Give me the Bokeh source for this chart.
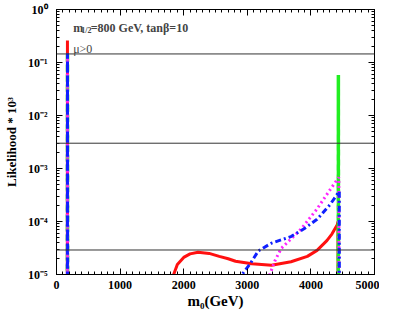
from bokeh.plotting import figure
from bokeh.models import (FixedTicker, LogAxis, LinearAxis, Span, Label,
                          CustomJSTickFormatter, Range1d)
from bokeh.embed import file_html
from bokeh.resources import INLINE

nan = float("nan")
FLOOR = 1e-7  # below the visible axis range (curves drop off the plot)

# ---- data ----
red_m0 = [170, 172, 174, nan,
          1800, 1842, 1900, 2000, 2100, 2226, 2400, 2559, 2700, 2815, 3072, 3380,
          3687, 3944, 4097, 4251, 4330, 4415, 4425, 4432]
red_L = [FLOOR, 0.26, FLOOR, nan,
         FLOOR, 1.0e-5, 1.55e-5, 2.1e-5, 2.45e-5, 2.63e-5, 2.5e-5, 2.2e-5, 1.98e-5, 1.78e-5, 1.59e-5, 1.5e-5,
         1.74e-5, 2.2e-5, 2.85e-5, 4.36e-5, 5.8e-5, 8.7e-5, 1.0e-4, FLOOR]

blue_m0 = [170, 173, 176, nan,
           2900, 2918, 3046, 3175, 3380, 3687, 3892, 4097, 4303, 4431, 4446, 4448]
blue_L = [FLOOR, 0.15, FLOOR, nan,
          FLOOR, 1.0e-5, 1.6e-5, 2.8e-5, 3.9e-5, 5.2e-5, 7.3e-5, 1.1e-4, 2.1e-4, 3.5e-4, 3.7e-4, FLOOR]

mag_m0 = [170, 173, 176, nan,
          3330, 3354, 3431, 3533, 3687, 3841, 4097, 4303, 4431, 4440, 4442]
mag_L = [FLOOR, 0.15, FLOOR, nan,
         FLOOR, 1.0e-5, 1.78e-5, 3.1e-5, 4.7e-5, 7.1e-5, 1.73e-4, 4.0e-4, 6.6e-4, 6.8e-4, FLOOR]

green_m0 = [171, 173, 175, nan, 4429, 4432, 4435]
green_L = [FLOOR, 0.15, FLOOR, nan, FLOOR, 0.058, FLOOR]

hlines = [0.145, 0.003, 2.9e-5]

x_major = [0, 1000, 2000, 3000, 4000, 5000]
x_minor = list(range(0, 5001, 100))
y_major = [1e-5, 1e-4, 1e-3, 1e-2, 1e-1, 1e0]
y_minor = [m * 10.0 ** k for k in range(-5, 0) for m in range(1, 10)]

FONT = "Liberation Serif"

p = figure(width=379, height=311, y_axis_type="log",
           x_range=Range1d(0, 5000), y_range=Range1d(1e-5, 1),
           output_backend="svg", toolbar_location=None,
           min_border_left=49, min_border_right=5, min_border_top=9, min_border_bottom=20)
p.grid.visible = False
p.outline_line_color = "black"
p.background_fill_color = "white"
p.border_fill_color = "white"

# lines
p.line(red_m0, red_L, line_color="#ff1010", line_width=3)
p.line(green_m0, green_L, line_color="#22ee22", line_width=3.5, line_dash="6 4")
p.line(mag_m0, mag_L, line_color="#ff22ff", line_width=3, line_dash="2 3")
p.line(blue_m0, blue_L, line_color="#1020ff", line_width=3, line_dash="6 3 2 3")

for h in hlines:
    p.add_layout(Span(location=h, dimension="width", line_color="#333333", line_width=1))

def style(ax):
    ax.axis_line_color = "black"
    ax.major_tick_in = 6
    ax.major_tick_out = 0
    ax.minor_tick_in = 3
    ax.minor_tick_out = 0
    ax.major_tick_line_color = "black"
    ax.minor_tick_line_color = "black"
    ax.major_label_text_font = FONT
    ax.major_label_text_font_style = "bold"
    ax.major_label_text_font_size = "12px"
    ax.major_label_text_color = "black"

xt = FixedTicker(ticks=x_major, minor_ticks=x_minor)
yt = FixedTicker(ticks=y_major, minor_ticks=y_minor)

xa = p.xaxis[0]
xa.ticker = xt
style(xa)
xa.major_label_standoff = 6
xa.axis_label = "m\u2080(GeV)"
xa.axis_label_text_font = FONT
xa.axis_label_text_font_style = "bold"
xa.axis_label_text_font_size = "15px"
xa.axis_label_standoff = 1
xa.axis_label_text_color = "black"

ya = p.yaxis[0]
ya.ticker = yt
style(ya)
ya.major_label_standoff = 9
ya.formatter = CustomJSTickFormatter(code="""
const e = Math.round(Math.log10(tick));
const sup = {'0':'\u2070','1':'\u00b9','2':'\u00b2','3':'\u00b3','4':'\u2074','5':'\u2075','-':'\u207b'};
return '10' + String(e).split('').map(c => sup[c]).join('');
""")
ya.axis_label = "Likelihood * 10\u00b3"
ya.axis_label_text_font = FONT
ya.axis_label_text_font_style = "bold"
ya.axis_label_text_font_size = "13px"
ya.axis_label_standoff = 6
ya.axis_label_text_color = "black"

blank = CustomJSTickFormatter(code="return '';")
top = LinearAxis(ticker=xt, formatter=blank)
style(top)
top.major_label_standoff = 0
p.add_layout(top, "above")
right = LogAxis(ticker=yt, formatter=blank)
style(right)
right.major_label_standoff = 0
p.add_layout(right, "right")

# annotations
p.add_layout(Label(x=262, y=0.456, text="m", text_font=FONT, text_font_style="bold",
                   text_font_size="12px", text_baseline="alphabetic", text_align="left"))
p.add_layout(Label(x=390, y=0.405, text="1/2", text_font=FONT, text_font_style="bold",
                   text_font_size="8px", text_baseline="alphabetic", text_align="left"))
p.add_layout(Label(x=538, y=0.456, text="=800 GeV, tan\u03b2=10", text_font=FONT,
                   text_font_style="bold", text_font_size="12px", text_baseline="alphabetic",
                   text_align="left"))
p.add_layout(Label(x=262, y=0.183, text="\u03bc>0", text_font=FONT,
                   text_font_size="12px", text_baseline="alphabetic", text_align="left"))

open("out.html", "w").write(file_html(p, INLINE))
